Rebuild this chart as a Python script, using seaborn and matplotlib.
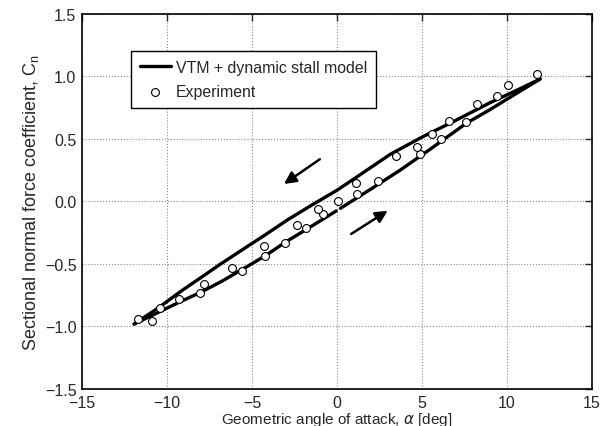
import numpy as np
import pandas as pd
import matplotlib
matplotlib.use("Agg")
import matplotlib.pyplot as plt
import seaborn as sns

# VTM + dynamic stall model hysteresis loop
up_alpha = [11.95, 10.5, 9.0, 7.0, 5.0, 3.14, 1.1, 0.0, -1.5, -2.92, -4.2, -5.5, -6.9, -8.21, -9.2, -10.5, -11.93]
up_cn = [0.98, 0.885, 0.79, 0.65, 0.515, 0.378, 0.19, 0.09, -0.03, -0.148, -0.265, -0.38, -0.505, -0.628, -0.72, -0.85, -0.98]

lo_alpha = [-11.93, -10.5, -9.19, -8.07, -6.8, -5.59, -4.24, -3.04, -1.5, -0.05, np.nan, 0.2, 2.0, 3.73, 5.5, 7.6, 9.0, 10.5, 11.95]
lo_cn = [-0.98, -0.886, -0.80, -0.73, -0.64, -0.545, -0.436, -0.326, -0.198, -0.076, np.nan, -0.055, 0.10, 0.252, 0.42, 0.625, 0.735, 0.86, 0.98]

# Experiment
exp_alpha = [11.75, 10.07, 9.42, 8.21, 7.60, 6.59, 6.14, 5.59, 4.86, 4.71, 3.48, 2.42, 1.15, 1.09, 0.07,
             -0.83, -1.14, -1.83, -2.38, -3.04, -4.24, -4.32, -5.59, -6.18, -7.80, -8.07, -9.29, -10.4, -10.87, -11.73]
exp_cn = [1.02, 0.93, 0.84, 0.78, 0.636, 0.646, 0.50, 0.54, 0.378, 0.433, 0.36, 0.166, 0.062, 0.146, 0.00,
          -0.10, -0.058, -0.21, -0.19, -0.33, -0.436, -0.354, -0.56, -0.53, -0.66, -0.73, -0.78, -0.85, -0.96, -0.94]

xticks = [-15, -10, -5, 0, 5, 10, 15]
yticks = [-1.5, -1.0, -0.5, 0.0, 0.5, 1.0, 1.5]

sns.set_style("white")
plt.rcParams["font.family"] = ["Liberation Sans", "DejaVu Sans"]
plt.rcParams["mathtext.fontset"] = "dejavusans"

fig = plt.figure(figsize=(6.06, 4.27), dpi=100)
ax = fig.add_axes([0.1353, 0.0867, 0.8416, 0.8782])

up = pd.DataFrame({"alpha": up_alpha, "cn": up_cn})
lo = pd.DataFrame({"alpha": lo_alpha, "cn": lo_cn})
ex = pd.DataFrame({"alpha": exp_alpha, "cn": exp_cn})

sns.lineplot(data=up, x="alpha", y="cn", sort=False, color="black", lw=2.4, ax=ax,
             label="VTM + dynamic stall model")
# lower branch drawn piecewise to keep the small gap near zero
gap = lo["alpha"].isna().idxmax()
for part in (lo.iloc[:gap], lo.iloc[gap + 1:]):
    sns.lineplot(data=part, x="alpha", y="cn", sort=False, color="black", lw=2.4, ax=ax)
sns.scatterplot(data=ex, x="alpha", y="cn", marker="o", s=32, facecolor="white",
                edgecolor="black", linewidth=0.8, ax=ax, label="Experiment", zorder=3)

# direction arrows
arrow = dict(arrowstyle="-|>", color="black", lw=1.8, mutation_scale=18, shrinkA=0, shrinkB=0)
ax.annotate("", xy=(-3.12, 0.14), xytext=(-1.01, 0.338), arrowprops=arrow)
ax.annotate("", xy=(2.98, -0.074), xytext=(0.83, -0.26), arrowprops=arrow)

ax.set_xlim(-15, 15)
ax.set_ylim(-1.5, 1.5)
ax.set_xticks(xticks)
ax.set_yticks(yticks)
ax.set_xticklabels([str(t).replace("-", "\u2212") for t in xticks])
ax.set_yticklabels([f"{t:.1f}".replace("-", "\u2212") for t in yticks])
ax.tick_params(direction="in", top=True, right=True, length=5, width=1, labelsize=11.5, pad=4)
ax.grid(True, linestyle=":", color="#888888", lw=0.8)
for s in ax.spines.values():
    s.set_color("black")
    s.set_linewidth(1.2)

ax.set_xlabel(r"Geometric angle of attack, $\alpha$ [deg]", fontsize=11, labelpad=0)
ax.set_ylabel(r"Sectional normal force coefficient, C$_\mathregular{n}$", fontsize=13, labelpad=3)

leg = ax.legend(loc="upper left", bbox_to_anchor=(0.096, 0.901), borderaxespad=0, fontsize=11.4,
                frameon=True, fancybox=False, framealpha=1, edgecolor="black",
                handlelength=2.0, handletextpad=0.3, borderpad=0.55, labelspacing=0.6)
leg.get_frame().set_linewidth(1.0)

fig.savefig("out.png", dpi=100)
